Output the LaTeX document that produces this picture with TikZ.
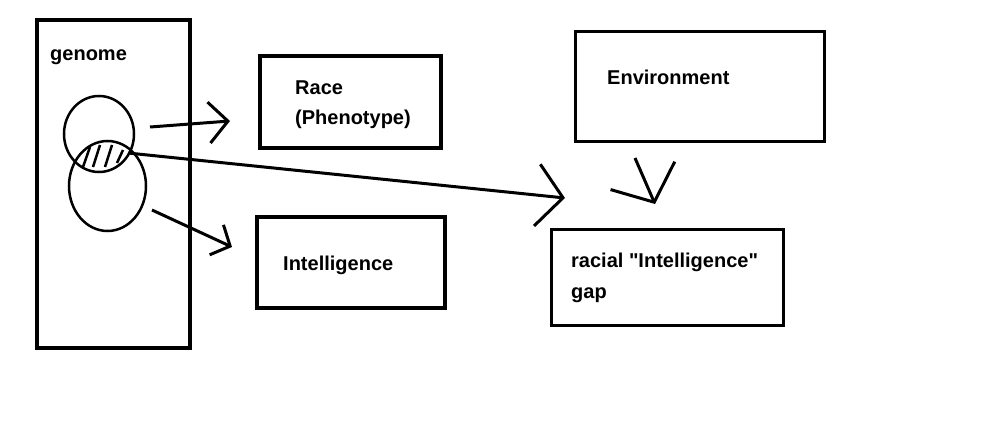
\documentclass[tikz,border=0pt]{standalone}
\usepackage{fontspec}
\setmainfont{Liberation Sans}
\usepackage{tikz}
\usetikzlibrary{arrows.meta,shapes.geometric}

\begin{document}
\begin{tikzpicture}[x=1pt,y=-1pt,
  box/.style={draw,line width=4.3pt,inner sep=0pt},
  thinbox/.style={draw,line width=3pt,inner sep=0pt},
  blob/.style={draw,ellipse,line width=2.5pt,inner sep=0pt},
  txt/.style={anchor=base west,inner sep=0pt,font=\fontsize{20}{24}\selectfont\bfseries},
  conn/.style={line width=3pt}]
  \useasboundingbox (0,0) rectangle (996,422);
  % boxes
  \node[box,minimum width=153pt,minimum height=328pt] (genome) at (113.5,184) {};
  \node[box,minimum width=181pt,minimum height=92pt] (race) at (350.5,102) {};
  \node[box,minimum width=188pt,minimum height=91pt] (intel) at (351,262.5) {};
  \node[thinbox,minimum width=249pt,minimum height=110pt] (env) at (700,86.5) {};
  \node[thinbox,minimum width=232pt,minimum height=96pt] (gap) at (667.5,277.5) {};
  % texts
  \node[txt] (genome-1) at (50,60.5) {genome};
  \node[txt] (race-1) at (295,95) {Race};
  \node[txt] (race-2) at (295,124.5) {(Phenotype)};
  \node[txt] (intel-1) at (283,270) {Intelligence};
  \node[txt] (env-1) at (607,85) {Environment};
  \node[txt] (gap-1) at (571,268) {racial \textquotedbl Intelligence\textquotedbl};
  \node[txt] (gap-2) at (571,298) {gap};
  % gene sets
  \node[blob,minimum width=70pt,minimum height=76pt] (set-1) at (99,134) {};
  \node[blob,minimum width=77pt,minimum height=90pt] (set-2) at (107.5,186) {};
  \draw[line width=2.5pt] (83,167) -- (90,147) (93,167) -- (100,145)
    (105,167) -- (112,145) (117,163) -- (123,150);
  % arrows
  \coordinate (A-1) at (150,127);
  \coordinate (A-2) at (230,121);
  \coordinate (B-1) at (152,210);
  \coordinate (B-2) at (232,247);
  \coordinate (C-1) at (128,153);
  \coordinate (C-2) at (565,198);
  \coordinate (D-1) at (635,158);
  \coordinate (D-2) at (655,204);
  \draw[conn,-{Straight Barb[length=19pt,width=41pt]}] (A-1) -- (A-2);
  \draw[conn,-{Straight Barb[length=15pt,width=33pt]}] (B-1) -- (B-2);
  \draw[conn,-{Straight Barb[length=26pt,width=62pt]}] (C-1) -- (C-2);
  \draw[conn,-{Straight Barb[length=29pt,width=70pt]}] (D-1) -- (D-2);
\end{tikzpicture}
\end{document}
